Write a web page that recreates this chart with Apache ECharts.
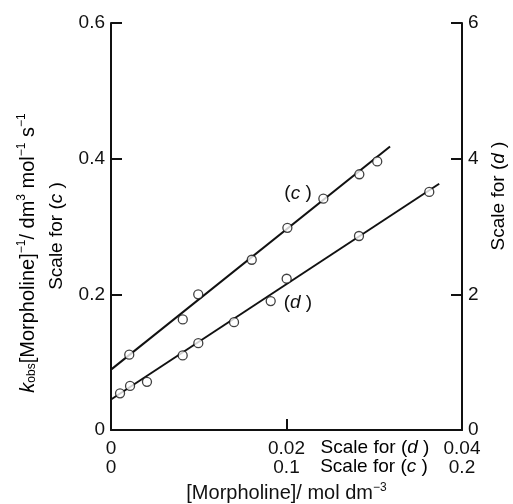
<!doctype html>
<meta charset="utf-8">
<style>
  html, body { margin: 0; padding: 0; width: 100%; height: 100%; background: #fff; }
  #chart { width: 513px; height: 504px; }
</style>
<script src="https://cdn.jsdelivr.net/npm/echarts@6/dist/echarts.min.js"></script>

<div id="chart"></div>

<script>
  // series (c): x on the 0-0.2 scale, y on the left 0-0.6 scale
  const cPoints = [
    [0.0104, 0.111], [0.0409, 0.163], [0.0497, 0.200], [0.0802, 0.251],
    [0.1005, 0.298], [0.1210, 0.341], [0.1415, 0.377], [0.1517, 0.396]
  ];
  const cFit = [[0, 0.089], [0.159, 0.418]];

  // series (d): x on the 0-0.04 scale, y on the right 0-6 scale
  const dPoints = [
    [0.00103, 0.54], [0.00217, 0.65], [0.00410, 0.71], [0.00817, 1.10],
    [0.00995, 1.28], [0.01402, 1.59], [0.01820, 1.90], [0.02002, 2.23],
    [0.02826, 2.86], [0.03627, 3.51]
  ];
  const dFit = [[0, 0.45], [0.0374, 3.63]];

  const cLabelAt = [0.1066, 0.349];
  const dLabelAt = [0.0213, 1.88];

  const FONT = '"Liberation Sans", Arial, Helvetica, sans-serif';
  const INK = '#111';
  const FS = 19;

  const rich = {
    sup: { fontSize: 12, fontFamily: FONT, color: INK, verticalAlign: 'top', lineHeight: 24, padding: [0, 0, 10, 0] },
    sub: { fontSize: 12, fontFamily: FONT, color: INK, lineHeight: 24, padding: [8, 0, 0, 0] },
    it: { fontSize: FS, fontFamily: FONT, color: INK, fontStyle: 'italic', lineHeight: 24 },
    n: { fontSize: FS, fontFamily: FONT, color: INK, lineHeight: 24 },
    big: { fontSize: 20, fontFamily: FONT, color: INK, lineHeight: 24 },
    bigit: { fontSize: 20, fontFamily: FONT, color: INK, fontStyle: 'italic', lineHeight: 24 }
  };

  function pointSeries(data, xi, yi) {
    return {
      type: 'scatter', xAxisIndex: xi, yAxisIndex: yi, data: data,
      symbol: 'circle', symbolSize: 9, z: 5,
      itemStyle: { color: '#fff', borderColor: INK, borderWidth: 1.3 }
    };
  }
  function fitSeries(data, xi, yi, label, at) {
    return {
      type: 'line', xAxisIndex: xi, yAxisIndex: yi, data: data,
      showSymbol: false, z: 3, lineStyle: { color: INK, width: 2 },
      markPoint: {
        symbol: 'circle', symbolSize: 1,
        itemStyle: { color: 'rgba(0,0,0,0)' },
        data: [{ coord: at, value: 1 }],
        label: {
          show: true, position: 'inside',
          formatter: '{n|(}{it|' + label + '}{n| )}', rich: rich
        }
      }
    };
  }

  const tick = { inside: true, length: 11, lineStyle: { color: INK, width: 2 } };
  const line = { onZero: false, lineStyle: { color: INK, width: 2 } };
  const label = (m) => ({ color: INK, fontSize: FS, fontFamily: FONT, margin: m });

  let chart = echarts.init(document.getElementById('chart'));
  chart.setOption({
    animation: false,
    backgroundColor: '#fff',
    grid: { left: 111, right: 51, top: 23, bottom: 74, outerBoundsMode: 'none', containLabel: false },
    xAxis: [
      {
        type: 'value', min: 0, max: 0.04, interval: 0.02, position: 'bottom',
        splitLine: { show: false }, axisLine: line, axisTick: tick,
        axisLabel: label(9)
      },
      {
        type: 'value', min: 0, max: 0.2, interval: 0.1, position: 'bottom', offset: 19,
        splitLine: { show: false },
        axisLine: { show: false, onZero: false }, axisTick: { show: false },
        axisLabel: label(9),
        name: '{big|[Morpholine]/ mol dm}{sup|−3}',
        nameLocation: 'middle', nameGap: 15,
        nameTextStyle: { rich: rich }
      }
    ],
    yAxis: [
      {
        type: 'value', min: 0, max: 0.6, interval: 0.2, position: 'left',
        splitLine: { show: false }, axisLine: line, axisTick: tick,
        axisLabel: label(6)
      },
      {
        type: 'value', min: 0, max: 6, interval: 2, position: 'right',
        splitLine: { show: false }, axisLine: line, axisTick: tick,
        axisLabel: label(6)
      }
    ],
    graphic: [
      {
        type: 'text', x: 28, y: 253, rotation: Math.PI / 2,
        style: {
          text: '{bigit|k}{sub|obs}{big|[Morpholine]}{sup|−1}{big|/ dm}{sup|3}{big| mol}{sup|−1}{big| s}{sup|−1}',
          align: 'center', verticalAlign: 'middle', rich: rich
        }
      },
      {
        type: 'text', x: 57, y: 236, rotation: Math.PI / 2,
        style: { text: '{n|Scale for (}{it|c}{n| )}', align: 'center', verticalAlign: 'middle', rich: rich }
      },
      {
        type: 'text', x: 499, y: 196, rotation: Math.PI / 2,
        style: { text: '{n|Scale for (}{it|d}{n| )}', align: 'center', verticalAlign: 'middle', rich: rich }
      },
      {
        type: 'text', x: 375, y: 448,
        style: { text: '{n|Scale for (}{it|d}{n| )}', align: 'center', verticalAlign: 'middle', rich: rich }
      },
      {
        type: 'text', x: 374, y: 467,
        style: { text: '{n|Scale for (}{it|c}{n| )}', align: 'center', verticalAlign: 'middle', rich: rich }
      }
    ],
    series: [
      fitSeries(cFit, 1, 0, 'c', cLabelAt),
      pointSeries(cPoints, 1, 0),
      fitSeries(dFit, 0, 1, 'd', dLabelAt),
      pointSeries(dPoints, 0, 1)
    ]
  });
</script>
